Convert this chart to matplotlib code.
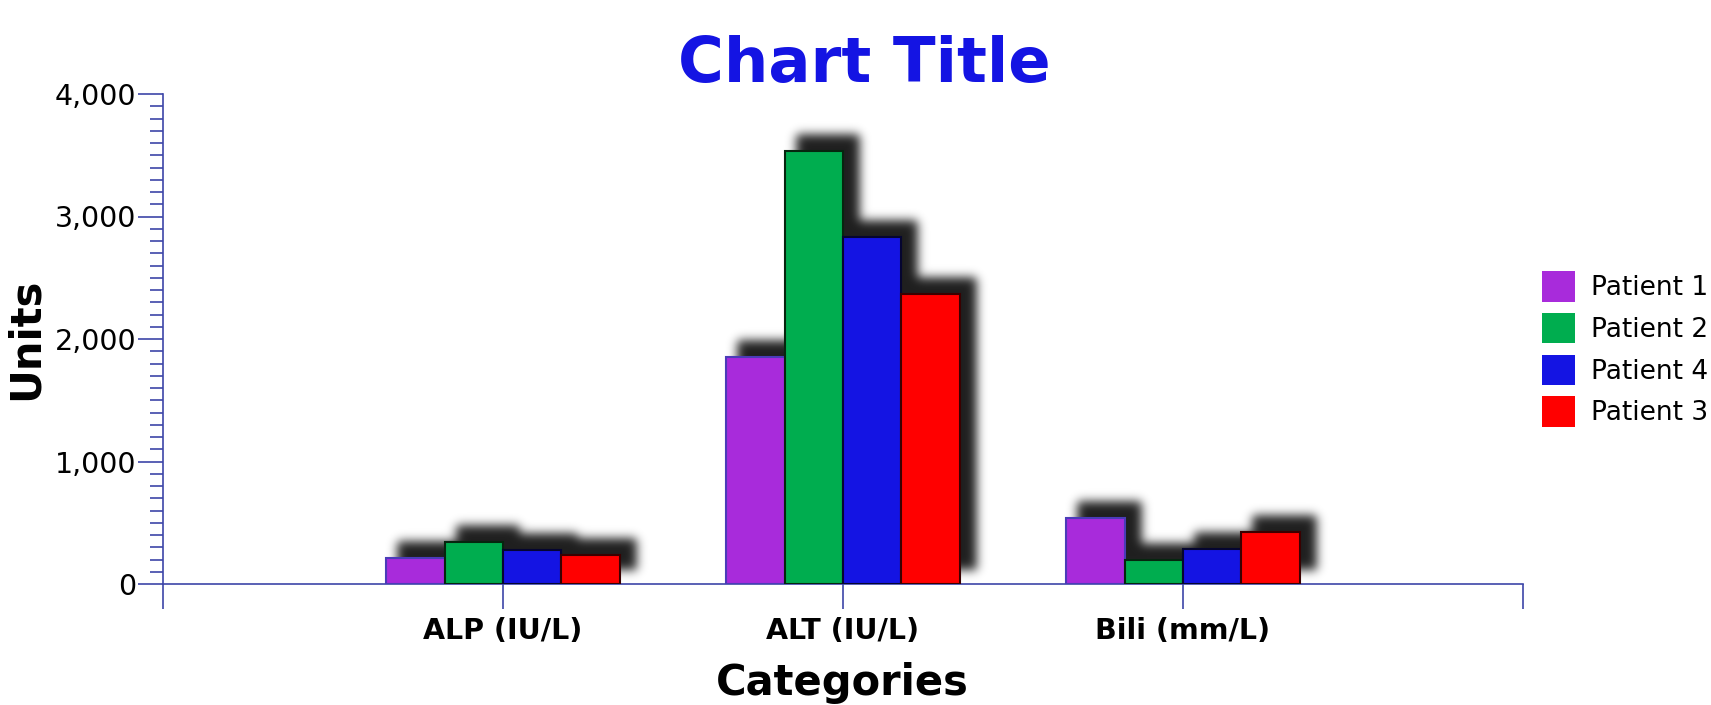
import numpy as np
import matplotlib
matplotlib.use("Agg")
import matplotlib.pyplot as plt
from matplotlib.patches import Rectangle, Patch
from matplotlib.collections import PatchCollection
from matplotlib.ticker import FuncFormatter, MultipleLocator

# data
categories = ["ALP (IU/L)", "ALT (IU/L)", "Bili (mm/L)"]
series = ["Patient 1", "Patient 2", "Patient 4", "Patient 3"]
patient1 = [215, 1857, 542]
patient2 = [341, 3534, 194]
patient4 = [278, 2830, 286]
patient3 = [237, 2364, 423]

colors = ["#A82BDB", "#00AD4F", "#1414E3", "#FF0000"]
edges = ["#4A3CB8", "#06260F", "#050530", "#3A0000"]
axis_col = "#3D46A8"

plt.rcParams["font.family"] = ["DejaVu Sans"]


class Shadow:
    """blur + shift filter for the drop shadow behind the bars"""
    def __init__(self, sigma=5.0, dx=14, dy=14, alpha=0.88):
        self.sigma = sigma
        self.dx = dx
        self.dy = dy
        self.alpha = alpha

    def blur(self, a, axis):
        r = int(3 * self.sigma)
        k = np.exp(-0.5 * (np.arange(-r, r + 1) / self.sigma) ** 2)
        k /= k.sum()
        out = np.zeros_like(a)
        for i, w in zip(range(-r, r + 1), k):
            out += w * np.roll(a, i, axis=axis)
        return out

    def __call__(self, im, dpi):
        pad = int(4 * self.sigma) + 2
        src = np.pad(im, [(pad, pad), (pad, pad), (0, 0)], "constant")
        a = self.blur(self.blur(src[..., 3], 0), 1)
        out = np.zeros_like(src)
        out[..., 3] = np.clip(a, 0, 1) * self.alpha
        return out, -pad + self.dx, -pad + self.dy


fig = plt.figure(figsize=(17.11, 7.05), dpi=100)
ax = fig.add_axes([163 / 1711, 1 - 584 / 705, 1360 / 1711, 490 / 705])

x = np.arange(1, len(categories) + 1)
w = 0.172
values = [patient1, patient2, patient4, patient3]
bars = []
for i, vals in enumerate(values):
    b = ax.bar(x + (i - 1.5) * w, vals, w, color=colors[i], edgecolor=edges[i],
               linewidth=1.5, zorder=3, label=series[i])
    bars.append(b)

# shadow built from the bar geometry
rects = []
for b in bars:
    for p in b.patches:
        rects.append(Rectangle((p.get_x(), p.get_y()), p.get_width(), p.get_height()))
shadow = PatchCollection(rects, facecolor="black", edgecolor="black", linewidth=4, zorder=2)
shadow.set_agg_filter(Shadow())
ax.add_collection(shadow)

ax.set_xlim(0, 4)
ax.set_ylim(0, 4000)
ax.set_xticks([0, 1, 2, 3, 4])
ax.set_xticklabels([""] + categories + [""], fontsize=20.5, fontweight="bold")
ax.yaxis.set_major_locator(MultipleLocator(1000))
ax.yaxis.set_minor_locator(MultipleLocator(100))
ax.yaxis.set_major_formatter(FuncFormatter(lambda v, p: f"{int(v):,}"))
ax.tick_params(axis="y", labelsize=20.5, length=18, width=1.2, color=axis_col, pad=1)
ax.tick_params(axis="y", which="minor", length=9.5, width=1.2, color=axis_col)
ax.tick_params(axis="x", length=18, width=1.2, color=axis_col, pad=6)

for s in ["top", "right"]:
    ax.spines[s].set_visible(False)
for s in ["left", "bottom"]:
    ax.spines[s].set_color(axis_col)
    ax.spines[s].set_linewidth(1.2)
ax.set_facecolor("none")

fig.text(864 / 1711, 1 - 82 / 705, "Chart Title", ha="center", va="baseline",
         fontsize=45, fontweight="bold", color="#1414E3")
fig.text(842 / 1711, 1 - 695 / 705, "Categories", ha="center", va="baseline",
         fontsize=30, fontweight="bold")
fig.text(26 / 1711, 1 - 339 / 705, "Units", ha="center", va="center",
         rotation=90, fontsize=30, fontweight="bold")

handles = [Patch(facecolor=c, edgecolor="none") for c in colors]
fig.legend(handles, series, loc="center left", bbox_to_anchor=(1542 / 1711, 1 - 349 / 705),
           frameon=False, fontsize=19, handlelength=1.25, handleheight=1.4,
           handletextpad=0.6, labelspacing=0.42, borderpad=0, borderaxespad=0)

fig.savefig("out.png", dpi=100)
